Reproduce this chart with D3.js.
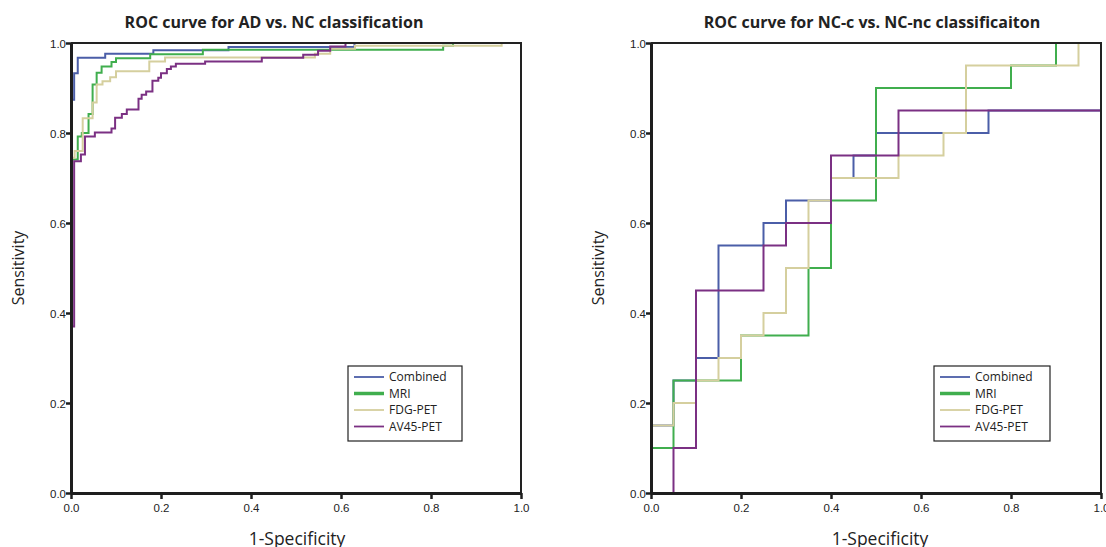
<!DOCTYPE html>
<html>
<head>
<meta charset="utf-8">
<script src="https://cdn.jsdelivr.net/npm/d3@7"></script>
<style>
  body { margin: 0; background: #fff; }
</style>
</head>
<body>
<svg width="1106" height="547"></svg>
<script>
let seriesNames = ["Combined", "MRI", "FDG-PET", "AV45-PET"];
let seriesColors = {
  "Combined": "#4b5ea8",
  "MRI": "#40ae4e",
  "FDG-PET": "#d5cf9e",
  "AV45-PET": "#7b3083"
};
let tickValues = [0, 0.2, 0.4, 0.6, 0.8, 1.0];

// ROC step corners (1-specificity, sensitivity) for AD vs. NC
let adCombinedFpr = [0, 0, 0.007, 0.015, 0.076, 0.183, 0.35, 0.63, 1.0];
let adCombinedTpr = [0, 0.874, 0.933, 0.967, 0.976, 0.984, 0.991, 1.0, 1.0];
let adMriFpr = [0, 0, 0.015, 0.024, 0.039, 0.048, 0.057, 0.068, 0.09, 0.1, 0.176, 0.293, 0.827, 0.849, 1.0];
let adMriTpr = [0, 0.741, 0.792, 0.8, 0.842, 0.908, 0.934, 0.948, 0.958, 0.966, 0.975, 0.985, 0.994, 1.0, 1.0];
let adFdgFpr = [0, 0, 0.008, 0.026, 0.048, 0.057, 0.07, 0.087, 0.1, 0.174, 0.209, 0.542, 0.576, 0.631, 0.957, 1.0];
let adFdgTpr = [0, 0.745, 0.76, 0.833, 0.868, 0.908, 0.915, 0.924, 0.937, 0.959, 0.968, 0.976, 0.987, 0.994, 1.0, 1.0];
let adAv45Fpr = [0, 0, 0.007, 0.022, 0.031, 0.053, 0.09, 0.098, 0.113, 0.124, 0.15, 0.157, 0.167, 0.181, 0.194, 0.2, 0.213, 0.222, 0.233, 0.298, 0.424, 0.516, 0.549, 0.576, 0.61, 1.0];
let adAv45Tpr = [0, 0.37, 0.737, 0.752, 0.792, 0.801, 0.81, 0.834, 0.842, 0.852, 0.876, 0.885, 0.892, 0.916, 0.923, 0.933, 0.942, 0.948, 0.954, 0.959, 0.967, 0.974, 0.983, 0.992, 1.0, 1.0];

// ROC step corners for NC-c vs. NC-nc
let ncCombinedFpr = [0, 0, 0.05, 0.1, 0.15, 0.25, 0.3, 0.4, 0.45, 0.5, 0.75, 1.0];
let ncCombinedTpr = [0, 0.15, 0.25, 0.3, 0.55, 0.6, 0.65, 0.7, 0.75, 0.8, 0.85, 0.85];
let ncMriFpr = [0, 0, 0.05, 0.2, 0.35, 0.4, 0.5, 0.8, 0.9, 1.0];
let ncMriTpr = [0, 0.1, 0.25, 0.35, 0.5, 0.65, 0.9, 0.95, 1.0, 1.0];
let ncFdgFpr = [0, 0, 0.05, 0.1, 0.15, 0.2, 0.25, 0.3, 0.35, 0.4, 0.55, 0.65, 0.7, 0.95, 1.0];
let ncFdgTpr = [0, 0.15, 0.2, 0.25, 0.3, 0.35, 0.4, 0.5, 0.65, 0.7, 0.75, 0.8, 0.95, 1.0, 1.0];
let ncAv45Fpr = [0, 0.05, 0.1, 0.25, 0.3, 0.4, 0.55, 1.0];
let ncAv45Tpr = [0, 0.1, 0.45, 0.55, 0.6, 0.75, 0.85, 0.85];

let toPoints = function(fpr, tpr) {
  return fpr.map(function(f, i) { return [f, tpr[i]] })
}

let svg = d3.select('svg')
svg.append('rect').attr('width', 1106).attr('height', 547).attr('fill', '#fff')

// draws one ROC panel: curves first, then frame and axes over them, then legend
let drawPanel = function(panel) {
  let x = d3.scaleLinear().domain([0, 1]).range([panel.left, panel.left + 450])
  let y = d3.scaleLinear().domain([0, 1]).range([493, 43])
  let g = svg.append('g')

  let line = d3.line()
    .x(function(d) { return x(d[0]) })
    .y(function(d) { return y(d[1]) })
    .curve(d3.curveStepAfter)

  g.selectAll('path.curve').data(panel.curves).enter().append('path')
    .attr('class', 'curve')
    .attr('d', function(c) { return line(c.points) })
    .attr('fill', 'none')
    .attr('stroke', function(c) { return seriesColors[c.name] })
    .attr('stroke-width', 2)

  // frame on top and right
  g.append('path')
    .attr('d', 'M' + x(0) + ',' + y(1) + 'H' + x(1) + 'V' + y(0))
    .attr('fill', 'none')
    .attr('stroke', '#222')
    .attr('stroke-width', 2)

  let xAxis = g.append('g')
    .attr('transform', 'translate(0,' + y(0) + ')')
    .call(d3.axisBottom(x).tickValues(tickValues).tickFormat(d3.format('.1f')).tickSizeOuter(0).tickSizeInner(6))
  let yAxis = g.append('g')
    .attr('transform', 'translate(' + x(0) + ',0)')
    .call(d3.axisLeft(y).tickValues(tickValues).tickFormat(d3.format('.1f')).tickSizeOuter(0).tickSizeInner(5))

  ;[xAxis, yAxis].forEach(function(a) {
    a.select('.domain').attr('stroke', '#1e1e1e').attr('stroke-width', 3)
    a.selectAll('.tick line').attr('stroke', '#1e1e1e').attr('stroke-width', 2.5)
    a.selectAll('.tick text')
      .attr('font-family', 'Liberation Sans, Arial, sans-serif')
      .attr('font-size', 11.5)
      .attr('fill', '#222')
  })
  xAxis.selectAll('.tick text').attr('y', 11)
  yAxis.selectAll('.tick text').attr('x', -5).attr('dy', '0.36em')

  g.append('text')
    .attr('x', panel.titleX)
    .attr('y', 28)
    .attr('text-anchor', 'middle')
    .attr('font-family', 'Open Sans, sans-serif')
    .attr('font-weight', 'bold')
    .attr('font-size', 16)
    .attr('fill', '#222')
    .text(panel.title)

  g.append('text')
    .attr('transform', 'translate(' + (panel.left - 47) + ',268) rotate(-90)')
    .attr('text-anchor', 'middle')
    .attr('font-family', 'Open Sans, sans-serif')
    .attr('font-size', 16)
    .attr('fill', '#222')
    .text('Sensitivity')

  g.append('text')
    .attr('x', panel.xLabelX)
    .attr('y', 545)
    .attr('text-anchor', 'middle')
    .attr('font-family', 'Open Sans, sans-serif')
    .attr('font-size', 17.5)
    .attr('fill', '#222')
    .text('1-Specificity')

  // legend
  let lg = g.append('g').attr('transform', 'translate(' + panel.legendX + ',366)')
  lg.append('rect')
    .attr('width', panel.legendW).attr('height', 75)
    .attr('fill', '#fff').attr('stroke', '#222').attr('stroke-width', 1.2)
  let rows = lg.selectAll('g.row').data(seriesNames).enter().append('g')
    .attr('class', 'row')
    .attr('transform', function(d, i) { return 'translate(0,' + (11 + i * 16.5) + ')' })
  rows.append('line')
    .attr('x1', 6).attr('x2', 36)
    .attr('stroke', function(d) { return seriesColors[d] })
    .attr('stroke-width', function(d) { return d === 'MRI' ? 3.5 : 1.8 })
  rows.append('text')
    .attr('x', 41).attr('dy', '0.35em')
    .attr('font-family', 'Open Sans, sans-serif')
    .attr('font-size', 12)
    .attr('fill', '#222')
    .text(function(d) { return d })
}

drawPanel({
  left: 71,
  title: 'ROC curve for AD vs. NC classification',
  titleX: 274,
  xLabelX: 297,
  legendX: 348,
  legendW: 114,
  curves: [
    { name: 'Combined', points: toPoints(adCombinedFpr, adCombinedTpr) },
    { name: 'MRI', points: toPoints(adMriFpr, adMriTpr) },
    { name: 'FDG-PET', points: toPoints(adFdgFpr, adFdgTpr) },
    { name: 'AV45-PET', points: toPoints(adAv45Fpr, adAv45Tpr) }
  ]
})

drawPanel({
  left: 651,
  title: 'ROC curve for NC-c vs. NC-nc classificaiton',
  titleX: 872,
  xLabelX: 880,
  legendX: 934,
  legendW: 116,
  curves: [
    { name: 'Combined', points: toPoints(ncCombinedFpr, ncCombinedTpr) },
    { name: 'MRI', points: toPoints(ncMriFpr, ncMriTpr) },
    { name: 'FDG-PET', points: toPoints(ncFdgFpr, ncFdgTpr) },
    { name: 'AV45-PET', points: toPoints(ncAv45Fpr, ncAv45Tpr) }
  ]
})
</script>
</body>
</html>
